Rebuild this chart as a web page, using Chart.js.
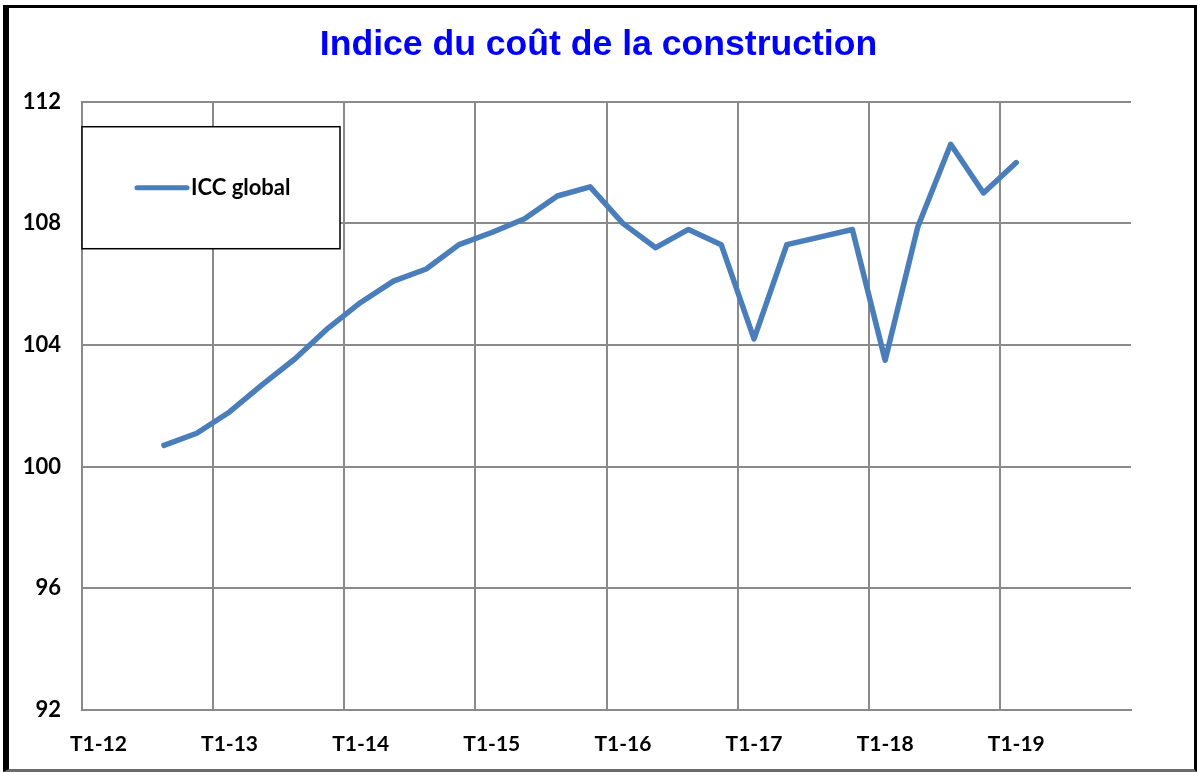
<!DOCTYPE html>
<html lang="fr">
<head>
<meta charset="utf-8">
<title>Indice du coût de la construction</title>
<script src="https://cdn.jsdelivr.net/npm/chart.js@4.4.1/dist/chart.umd.min.js"></script>
<style>
  html, body { margin: 0; padding: 0; background: #fff; }
  #wrap { position: relative; width: 1197px; height: 772px; overflow: hidden; }
  #frame {
    position: absolute; left: 3px; top: 5px; width: 1194px; height: 767px;
    box-sizing: border-box; pointer-events: none;
    border-left: 6px solid #000; border-top: 3px solid #000;
    border-right: 3px solid #000; border-bottom: 3px solid #6b6b6b;
  }
</style>
</head>
<body>
<div id="wrap">
  <canvas id="chart" width="1197" height="772"></canvas>
  <div id="frame"></div>
</div>
<script>
// quarterly labels, only the T1 ones get printed on the axis
var quarters = [
  'T1-12', 'T2-12', 'T3-12', 'T4-12',
  'T1-13', 'T2-13', 'T3-13', 'T4-13',
  'T1-14', 'T2-14', 'T3-14', 'T4-14',
  'T1-15', 'T2-15', 'T3-15', 'T4-15',
  'T1-16', 'T2-16', 'T3-16', 'T4-16',
  'T1-17', 'T2-17', 'T3-17', 'T4-17',
  'T1-18', 'T2-18', 'T3-18', 'T4-18',
  'T1-19', 'T2-19', 'T3-19', 'T4-19'
];

var iccGlobal = [
  null, null, 100.7, 101.1,
  101.8, 102.7, 103.55, 104.55,
  105.4, 106.1, 106.5, 107.3,
  107.7, 108.15, 108.9, 109.2,
  108.0, 107.2, 107.8, 107.3,
  104.2, 107.3, 107.55, 107.8,
  103.5, 107.9, 110.6, 109.0,
  110.0, null, null, null
];

var yTicks = [92, 96, 100, 104, 108, 112];

var gridGray = '#8a8a8a';
var lineBlue = '#4a7ebb';

// boxed legend in the upper left corner of the plot
var legendBox = {
  id: 'legendBox',
  beforeDatasetsDraw: function(chart) {
    var ctx = chart.ctx;
    var area = chart.chartArea;
    var ds = chart.data.datasets[0];
    var x = area.left, y = area.top + 25, w = 258, h = 122;
    ctx.save();
    ctx.fillStyle = '#fff';
    ctx.fillRect(x, y, w, h);
    ctx.strokeStyle = '#000';
    ctx.lineWidth = 1.5;
    ctx.strokeRect(x, y, w, h);
    ctx.strokeStyle = ds.borderColor;
    ctx.lineWidth = 5;
    ctx.lineCap = 'round';
    ctx.beginPath();
    ctx.moveTo(x + 55, y + 61);
    ctx.lineTo(x + 105, y + 61);
    ctx.stroke();
    ctx.fillStyle = '#000';
    ctx.font = 'bold 22px Lato';
    ctx.textBaseline = 'middle';
    ctx.fillText(ds.label, x + 109, y + 61);
    ctx.restore();
  }
};

var chart = new Chart('chart', {
  type: 'line',
  data: {
    labels: quarters,
    datasets: [
      {
        label: 'ICC global',
        data: iccGlobal,
        borderColor: lineBlue,
        borderWidth: 5.5,
        borderCapStyle: 'round',
        borderJoinStyle: 'round',
        pointRadius: 0,
        tension: 0,
        fill: false,
        spanGaps: false
      }
    ]
  },
  options: {
    responsive: false,
    animation: false,
    devicePixelRatio: 1,
    layout: { padding: 0 },
    plugins: {
      legend: { display: false },
      tooltip: { enabled: false },
      title: {
        display: true,
        text: 'Indice du coût de la construction',
        color: '#0000ff',
        font: { family: 'Liberation Sans', size: 35.6, weight: 'bold', lineHeight: 1.2 },
        padding: { top: 24, bottom: 35 }
      }
    },
    scales: {
      x: {
        offset: true,
        grid: {
          offset: true,
          drawTicks: false,
          lineWidth: 2,
          color: function(c) {
            return c.index % 4 === 0 ? gridGray : 'rgba(0,0,0,0)';
          }
        },
        border: { display: true, color: gridGray, width: 2 },
        ticks: {
          autoSkip: false,
          maxRotation: 0,
          padding: 22,
          color: '#000',
          font: { family: 'Lato', size: 21, weight: 'bold' },
          callback: function(v, i) {
            return i % 4 === 0 ? quarters[i] : '';
          }
        },
        afterFit: function(s) { s.height = 62; }
      },
      y: {
        min: yTicks[0],
        max: yTicks[yTicks.length - 1],
        afterBuildTicks: function(s) {
          s.ticks = yTicks.map(function(v) { return { value: v }; });
        },
        grid: { drawTicks: false, lineWidth: 2, color: gridGray },
        border: { display: true, color: gridGray, width: 2 },
        ticks: {
          padding: 21,
          color: '#000',
          font: { family: 'Lato', size: 22, weight: 'bold' }
        },
        afterFit: function(s) { s.width = 82; }
      },
      // empty right-hand margin, keeps the title centred on the whole canvas
      margin: {
        position: 'right',
        grid: { display: false },
        border: { display: false },
        ticks: { display: false },
        afterFit: function(s) { s.width = 66; }
      }
    }
  },
  plugins: [legendBox]
});
</script>
</body>
</html>
